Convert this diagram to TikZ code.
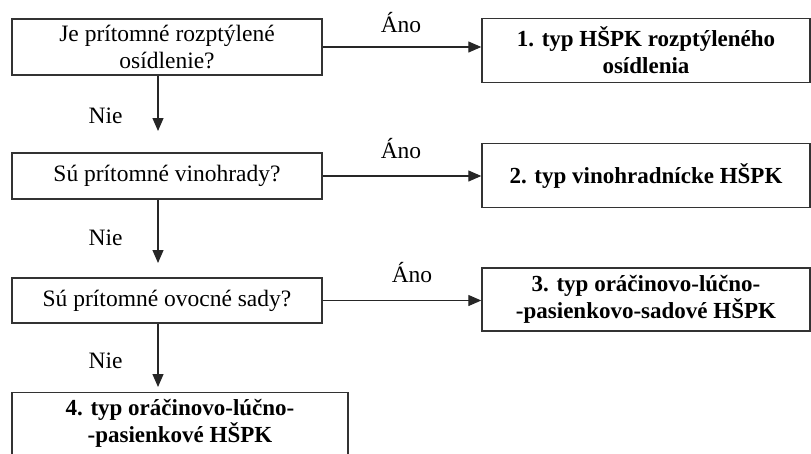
\documentclass[tikz,border=0pt]{standalone}
\usepackage{fontspec}
\setmainfont{Liberation Serif}
\usetikzlibrary{arrows.meta}

\begin{document}
\begin{tikzpicture}[x=1pt,y=-1pt]
    \tikzstyle{Box} = [
            draw=black!80,
            line width=1.4pt,
            rectangle,
            align=center,
            inner sep=0pt,
            font={\fontsize{23.5}{27}\selectfont}
    ];
    \tikzstyle{Question} = [
            Box,
            minimum width=310pt
    ];
    \tikzstyle{Type} = [
            Box,
            minimum width=328pt,
            minimum height=64pt,
            font={\fontsize{23}{27}\selectfont\bfseries}
    ];
    \tikzstyle{Edge} = [
            draw=black!85,
            line width=1.2pt,
            -{Triangle[length=13pt,width=11pt]}
    ];
    \tikzstyle{EdgeLabel} = [
            anchor=base,
            inner sep=0pt,
            font={\fontsize{23.5}{27}\selectfont}
    ];

    \useasboundingbox (0,0) rectangle (811,453);

    \node[Question, name=Q1, minimum height=56pt] at (167,47)  {Je prítomné rozptýlené\\osídlenie?};
    \node[Question, name=Q2, minimum height=46pt] at (167,176) {Sú prítomné vinohrady?};
    \node[Question, name=Q3, minimum height=45pt] at (167,300.5) {Sú prítomné ovocné sady?};

    \node[Type, name=T1] at (646,50.5)  {1. typ HŠPK rozptýleného\\osídlenia};
    \node[Type, name=T2] at (646,175.5) {2. typ vinohradnícke HŠPK};
    \node[Type, name=T3, minimum height=63pt] at (646,299.5) {3. typ oráčinovo-lúčno-\\-pasienkovo-sadové HŠPK};
    \node[Type, name=T4, anchor=north, minimum width=336pt, minimum height=0pt,
          inner ysep=7pt, text depth=40pt] at (180,392) {4. typ oráčinovo-lúčno-\\-pasienkové HŠPK};

    \coordinate (N1) at (158,131);
    \coordinate (N2) at (158,263);
    \coordinate (N3) at (158,387);

    \draw[Edge] (Q1.east) -- (Q1.east -| T1.west);
    \draw[Edge] (Q2.east) -- (Q2.east -| T2.west);
    \draw[Edge] (Q3.east) -- (Q3.east -| T3.west);
    \draw[Edge] (Q1.south -| N1) -- (N1);
    \draw[Edge] (Q2.south -| N2) -- (N2);
    \draw[Edge] (Q3.south -| N3) -- (N3);

    \node[EdgeLabel, name=A1] at (401,32)  {Áno};
    \node[EdgeLabel, name=A2] at (401,158) {Áno};
    \node[EdgeLabel, name=A3] at (412,282) {Áno};
    \node[EdgeLabel, name=B1] at (105.5,123) {Nie};
    \node[EdgeLabel, name=B2] at (105.5,245) {Nie};
    \node[EdgeLabel, name=B3] at (105.5,368) {Nie};
\end{tikzpicture}
\end{document}
